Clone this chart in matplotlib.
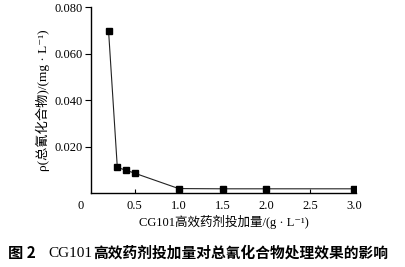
import matplotlib
matplotlib.use("Agg")
import matplotlib.pyplot as plt

dose = [0.2, 0.3, 0.4, 0.5, 1.0, 1.5, 2.0, 3.0]
cyanide = [0.070, 0.011, 0.0098, 0.0085, 0.0019, 0.0018, 0.0018, 0.0018]
xticks = [0.5, 1.0, 1.5, 2.0, 2.5, 3.0]
xticklabels = ["0.5", "1.0", "1.5", "2.0", "2.5", "3.0"]
yticks = [0.020, 0.040, 0.060, 0.080]
yticklabels = ["0.020", "0.040", "0.060", "0.080"]

SERIF = ["Liberation Serif", "Noto Sans CJK SC", "DejaVu Sans"]
CJK = ["Noto Sans CJK SC", "Liberation Serif", "DejaVu Sans"]
plt.rcParams["font.family"] = SERIF

fig = plt.figure(figsize=(4.05, 2.67), dpi=100)
ax = fig.add_axes([0.2247, 0.2772, 0.654, 0.6955])
ax.plot(dose, cyanide, color="#222222", lw=0.8, marker="s", ms=4.5,
        mfc="black", mec="black")
ax.set_xlim(0, 3.02)
ax.set_ylim(0, 0.080)
ax.set_xticks(xticks)
ax.set_xticklabels(xticklabels)
ax.set_yticks(yticks)
ax.set_yticklabels(yticklabels)
for s in ["top", "right"]:
    ax.spines[s].set_visible(False)
for s in ["left", "bottom"]:
    ax.spines[s].set_linewidth(1.0)
ax.tick_params(axis="x", direction="in", length=3, width=0.8, labelsize=9, pad=5)
ax.tick_params(axis="y", direction="out", length=4, width=0.8, labelsize=9, pad=2)
ax.annotate("0", xy=(0, 0), xycoords="axes fraction", xytext=(-7.5, -5),
            textcoords="offset points", ha="center", va="top", fontsize=9)

ax.set_xlabel("CG101高效药剂投加量/(g · L⁻¹)", fontsize=9, labelpad=2)
ax.set_ylabel("ρ(总氰化合物)/(mg · L⁻¹)", fontsize=9.5, labelpad=3)

fig.text(8 / 405, 0.052, "图 2", fontsize=11, fontweight="bold", family=CJK,
         ha="left", va="center")
fig.text(48 / 405, 0.052, "CG101", fontsize=11, family=SERIF, ha="left", va="center")
fig.text(93 / 405, 0.052, "高效药剂投加量对总氰化合物处理效果的影响", fontsize=10.6,
         fontweight="bold", family=CJK, ha="left", va="center")

fig.savefig("out.png", dpi=100)
